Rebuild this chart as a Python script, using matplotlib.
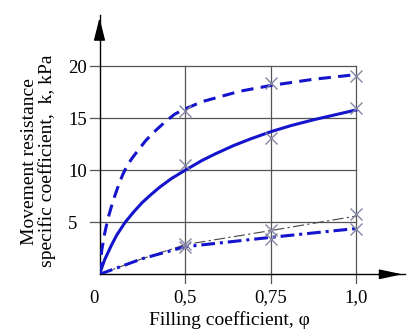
import numpy as np
import matplotlib
matplotlib.use("Agg")
import matplotlib.pyplot as plt
from matplotlib.transforms import ScaledTranslation

plt.rcParams['font.family'] = ['Liberation Serif', 'DejaVu Serif']

# ---- data ----
dash_x = [0, 0.013, 0.03, 0.05, 0.08, 0.11, 0.135, 0.16, 0.19, 0.22, 0.27, 0.32, 0.38,
          0.44, 0.5, 0.55, 0.66, 0.75, 0.875, 1.0]
dash_y = [0, 2.3, 3.9, 5.4, 7.1, 8.5, 9.55, 10.4, 11.15, 11.8, 12.85, 13.7, 14.6,
          15.4, 15.9, 16.6, 17.6, 18.15, 18.75, 19.2]

solid_x = [0, 0.03, 0.07, 0.1, 0.15, 0.2, 0.25, 0.3, 0.35, 0.42, 0.5, 0.55, 0.59, 0.64,
           0.69, 0.75, 0.81, 0.875, 1.0]
solid_y = [0, 1.4, 2.8, 3.75, 5.0, 6.0, 6.9, 7.65, 8.35, 9.2, 10.0, 10.95, 11.6, 12.35,
           13.0, 13.7, 14.3, 14.85, 15.8]

dd_x = [0, 0.25, 0.5, 0.75, 1.0]
dd_y = [0, 1.5, 2.65, 3.55, 4.4]

thin_x = [0, 0.25, 0.5, 0.75, 1.0]
thin_y = [0, 1.5, 2.85, 4.2, 5.6]

mark_x = [0.5, 0.75, 1.0]
mark_dash = [15.7, 18.4, 19.1]
mark_solid = [10.5, 13.1, 16.0]
mark_dd = [2.6, 3.35, 4.4]
mark_thin = [2.9, 4.25, 5.8]

xticks = [0, 0.5, 0.75, 1.0]
xticklabels = ['0', '0,5', '0,75', '1,0']
yticks = [5, 10, 15, 20]
yticklabels = ['5', '10', '15', '20']

# ---- figure ----
W, H = 409, 336
fig = plt.figure(figsize=(W / 100, H / 100), dpi=100)
left, right, bottom, top = 99.5, 405, 274.3, 15
ax = fig.add_axes([left / W, 1 - bottom / H, (right - left) / W, (bottom - top) / H])

def fwd(x):
    x = np.asarray(x, dtype=float)
    return np.where(x < 0.5, 0.25 + x * 0.5, x)

def inv(u):
    u = np.asarray(u, dtype=float)
    return np.where(u < 0.5, (u - 0.25) * 2.0, u)

ax.set_xscale('function', functions=(fwd, inv))
ax.set_xlim(0, 0.25 + (right - left) / 342.0)
ax.set_ylim(0, (bottom - top) / 10.4)

grid_c = '#555555'
x_left_ext = (0.25 - 9.5 / 342.0 - 0.25) * 2.0
for yv in yticks:
    ax.plot([x_left_ext, 1.0], [yv, yv], color=grid_c, lw=0.9, clip_on=False, zorder=1)
for xv in xticks[1:]:
    ax.plot([xv, xv], [-0.85, 20], color=grid_c, lw=0.9, clip_on=False, zorder=1)

blue = '#1414cc'
ax.plot(thin_x, thin_y, color='#444444', lw=0.8, ls=(0, (10, 3, 2, 3)), zorder=2)
ax.plot(dash_x, dash_y, color=blue, lw=2.2, ls=(0, (4, 2.4)), zorder=3,
        solid_joinstyle='round', dash_joinstyle='round')
ax.plot(solid_x, solid_y, color=blue, lw=2.2, ls='-', zorder=3, solid_joinstyle='round')
ax.plot(dd_x, dd_y, color=blue, lw=2.2, ls=(0, (4.5, 1.6, 1.0, 1.6)), zorder=3)

mk = dict(marker='x', ls='none', color='#8585a5', ms=9, mew=1.0, zorder=4)
for yy in (mark_dash, mark_solid, mark_dd, mark_thin):
    ax.plot(mark_x, yy, **mk)

for s in ('top', 'right'):
    ax.spines[s].set_visible(False)
for s in ('left', 'bottom'):
    ax.spines[s].set_color('black')
    ax.spines[s].set_linewidth(1.0)

ax.set_xticks(xticks)
ax.set_xticklabels(xticklabels, fontsize=13.5)
ax.set_yticks(yticks)
ax.set_yticklabels(yticklabels, fontsize=13.5, ha='left')
ax.tick_params(axis='x', length=0, pad=11)
ax.tick_params(axis='y', length=0, pad=22.5)
lab0 = ax.get_xticklabels()[0]
lab0.set_transform(lab0.get_transform() + ScaledTranslation(-6 / 100, 0, fig.dpi_scale_trans))

# arrows
ax.annotate('', xy=(0, 1.0), xycoords='axes fraction', xytext=(0, 0.90),
            arrowprops=dict(arrowstyle='-|>,head_length=1.4,head_width=0.35', color='black', lw=1.0),
            annotation_clip=False)
ax.annotate('', xy=(1.0, 0), xycoords='axes fraction', xytext=(0.92, 0),
            arrowprops=dict(arrowstyle='-|>,head_length=1.4,head_width=0.3', color='black', lw=1.0),
            annotation_clip=False)

fig.text(229 / W, 1 - 320 / H, 'Filling coefficient, φ', ha='center', va='center', fontsize=14)
fig.text(30 / W, 1 - 162 / H, 'Movement resistance', ha='center', va='center', rotation=90, fontsize=14)
fig.text(47 / W, 1 - 161 / H, 'specific coefficient,  k, kPa', ha='center', va='center', rotation=90, fontsize=14)

fig.savefig('out.png', dpi=100)
